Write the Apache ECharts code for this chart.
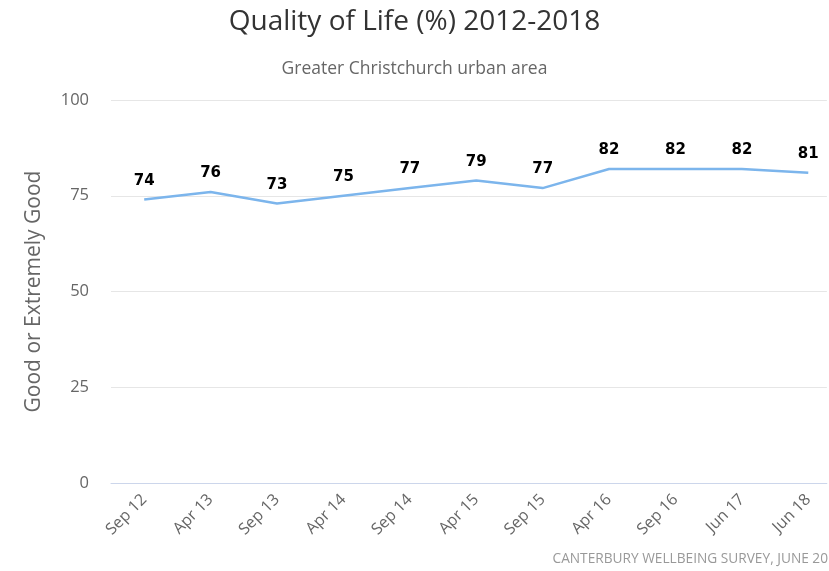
<!DOCTYPE html>
<html>
<head>
<meta charset="utf-8">
<script src="https://cdn.jsdelivr.net/npm/echarts@6/dist/echarts.min.js"></script>
<style>
  html, body { margin: 0; padding: 0; background: #fff; }
  #chart { width: 829px; height: 571px; }
</style>
</head>
<body>
<div id="chart"></div>
<script>
// survey waves and share rating quality of life good / extremely good
const waves = ['Sep 12', 'Apr 13', 'Sep 13', 'Apr 14', 'Sep 14', 'Apr 15', 'Sep 15', 'Apr 16', 'Sep 16', 'Jun 17', 'Jun 18'];
const goodPct = [74, 76, 73, 75, 77, 79, 77, 82, 82, 82, 81];
const yTicks = [0, 25, 50, 75, 100];

var chartDom = document.getElementById('chart');
var myChart = echarts.init(chartDom);
var font = 'Open Sans, sans-serif';
var option;

// x is the wave index, so the plot can run past the right edge like the original crop
var points = goodPct.map(function (v, i) { return [i, v]; });

option = {
  animation: false,
  title: [
    {
      text: 'Quality of Life (%) 2012-2018',
      left: 'center',
      top: 3,
      textStyle: { fontFamily: font, fontSize: 28, fontWeight: 'normal', color: '#333' }
    },
    {
      text: 'Greater Christchurch urban area',
      left: 'center',
      top: 55,
      textStyle: { fontFamily: font, fontSize: 17.5, fontWeight: 'normal', color: '#666' }
    },
    {
      text: 'CANTERBURY WELLBEING SURVEY, JUNE 20',
      right: -4,
      top: 547,
      textStyle: { fontFamily: font, fontSize: 13.7, fontWeight: 'normal', color: '#999' }
    }
  ],
  grid: {
    left: 111,
    right: 0,
    top: 100,
    bottom: 88
  },
  xAxis: {
    type: 'value',
    min: -0.5,
    max: 10.28,
    interval: 0.5,
    splitLine: { show: false },
    axisLine: { show: true, onZero: false, lineStyle: { color: '#ccd6eb' } },
    axisTick: { show: false },
    axisLabel: {
      rotate: 45,
      fontFamily: font,
      fontSize: 16,
      color: '#666',
      margin: 14,
      showMinLabel: true,
      showMaxLabel: true,
      formatter: function (v) {
        return Number.isInteger(v) && waves[v] ? waves[v] : '';
      }
    }
  },
  yAxis: {
    type: 'value',
    min: 0,
    max: 100,
    interval: 25,
    name: 'Good or Extremely Good',
    nameLocation: 'middle',
    nameGap: 66,
    nameTextStyle: { fontFamily: font, fontSize: 21, color: '#666' },
    axisLine: { show: false },
    axisTick: { show: false },
    axisLabel: {
      fontFamily: font,
      fontSize: 16.5,
      color: '#666',
      margin: 22,
      formatter: function (v) { return yTicks.indexOf(v) >= 0 ? v : ''; }
    },
    splitLine: { lineStyle: { color: '#e6e6e6' } }
  },
  series: [
    {
      type: 'line',
      data: points,
      symbol: 'circle',
      symbolSize: 0,
      showSymbol: true,
      lineStyle: { color: '#7cb5ec', width: 2.5 },
      itemStyle: { color: '#7cb5ec' },
      label: {
        show: true,
        position: 'top',
        distance: 11,
        fontFamily: 'DejaVu Sans, sans-serif',
        fontSize: 15,
        fontWeight: 'bold',
        color: '#000',
        formatter: function (p) { return p.value[1]; }
      }
    }
  ]
};

option && myChart.setOption(option);
</script>
</body>
</html>
